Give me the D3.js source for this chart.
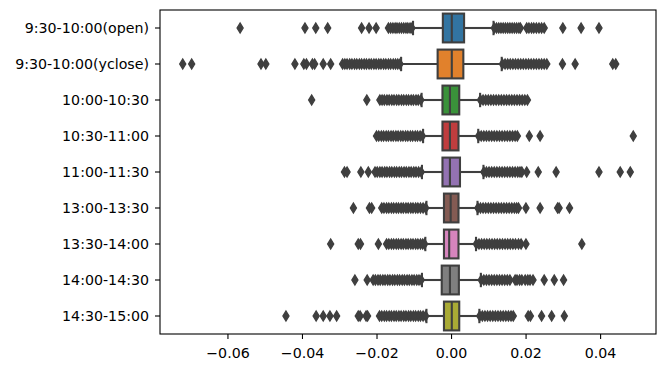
<!DOCTYPE html>
<html>
<head>
<meta charset="utf-8">
<script src="https://cdn.jsdelivr.net/npm/d3@7"></script>
<style>
  body { margin: 0; background: #fff; }
  text { font-family: "DejaVu Sans", sans-serif; }
</style>
</head>
<body>
<svg id="chart" width="663" height="369"></svg>
<script>
// time buckets on the y axis, top to bottom
const categories = ['9:30-10:00(open)', '9:30-10:00(yclose)', '10:00-10:30', '10:30-11:00',
  '11:00-11:30', '13:00-13:30', '13:30-14:00', '14:00-14:30', '14:30-15:00']
const boxColors = ['#3274a1', '#e1812c', '#3a923a', '#c03d3e', '#9372b2', '#845b53', '#d684bd', '#7f7f7f', '#a9aa35']

// box stats
const whiskerLow = [-0.0102, -0.0134, -0.0079, -0.0075, -0.0078, -0.0066, -0.0069, -0.0078, -0.0066]
const q1 = [-0.0022, -0.0036, -0.0023, -0.0023, -0.0023, -0.0019, -0.0019, -0.0025, -0.0019]
const median = [0.0002, 0.0002, -0.0003, -0.0003, -0.0003, -0.0001, -0.0005, -0.0003, 0.0002]
const q3 = [0.0035, 0.0033, 0.0022, 0.0020, 0.0024, 0.0020, 0.0020, 0.0021, 0.0022]
const whiskerHigh = [0.0114, 0.0136, 0.0078, 0.0073, 0.0087, 0.0071, 0.0067, 0.0080, 0.0076]

// outliers for each bucket
const fliers = [
  [-0.0566, -0.0392, -0.0363, -0.0331, -0.0240, -0.0220, -0.0201,
   -0.0168, -0.0162, -0.0156, -0.0150, -0.0145, -0.0139, -0.0133, -0.0127, -0.0121, -0.0116, -0.0110, -0.0105,
   0.0116, 0.0122, 0.0128, 0.0134, 0.0140, 0.0146, 0.0152, 0.0158, 0.0164, 0.0170, 0.0176, 0.0182, 0.0186,
   0.0203, 0.0209, 0.0216, 0.0222, 0.0229, 0.0236, 0.0243, 0.0250, 0.0300, 0.0349, 0.0397],
  [-0.0720, -0.0696, -0.0510, -0.0497, -0.0419, -0.0395, -0.0388, -0.0372, -0.0366, -0.0343, -0.0323,
   -0.0291, -0.0285, -0.0279, -0.0272, -0.0266, -0.0259, -0.0253, -0.0246, -0.0240, -0.0233, -0.0227, -0.0220,
   -0.0214, -0.0207, -0.0201, -0.0194, -0.0188, -0.0181, -0.0175, -0.0168, -0.0162, -0.0155, -0.0149, -0.0143, -0.0137,
   0.0138, 0.0145, 0.0152, 0.0159, 0.0166, 0.0173, 0.0180, 0.0187, 0.0194, 0.0201, 0.0208, 0.0215, 0.0222,
   0.0229, 0.0236, 0.0243, 0.0250, 0.0257, 0.0299, 0.0333, 0.0434, 0.0442],
  [-0.0374, -0.0226, -0.0191, -0.0185, -0.0179, -0.0172, -0.0166, -0.0159, -0.0153, -0.0146, -0.0140, -0.0133,
   -0.0127, -0.0120, -0.0114, -0.0107, -0.0101, -0.0094, -0.0088, -0.0081,
   0.0079, 0.0086, 0.0093, 0.0100, 0.0107, 0.0114, 0.0121, 0.0128, 0.0135, 0.0142, 0.0149, 0.0156, 0.0163,
   0.0170, 0.0177, 0.0184, 0.0191, 0.0198, 0.0205],
  [-0.0200, -0.0194, -0.0187, -0.0181, -0.0174, -0.0168, -0.0161, -0.0155, -0.0148, -0.0142, -0.0135, -0.0129,
   -0.0122, -0.0116, -0.0109, -0.0103, -0.0096, -0.0090, -0.0083, -0.0077,
   0.0074, 0.0081, 0.0088, 0.0095, 0.0102, 0.0109, 0.0116, 0.0123, 0.0130, 0.0137, 0.0144, 0.0151, 0.0158,
   0.0165, 0.0172, 0.0178, 0.0210, 0.0239, 0.0489],
  [-0.0286, -0.0279, -0.0242, -0.0222, -0.0204, -0.0198, -0.0191, -0.0185, -0.0178, -0.0172, -0.0165, -0.0159,
   -0.0152, -0.0146, -0.0139, -0.0133, -0.0126, -0.0120, -0.0113, -0.0107, -0.0100, -0.0094, -0.0087, -0.0080,
   0.0088, 0.0095, 0.0102, 0.0109, 0.0116, 0.0123, 0.0130, 0.0137, 0.0144, 0.0151, 0.0158, 0.0165, 0.0172,
   0.0179, 0.0185, 0.0190, 0.0203, 0.0234, 0.0282, 0.0397, 0.0454, 0.0481],
  [-0.0262, -0.0219, -0.0213, -0.0186, -0.0180, -0.0173, -0.0167, -0.0160, -0.0154, -0.0147, -0.0141, -0.0134,
   -0.0128, -0.0121, -0.0115, -0.0108, -0.0102, -0.0095, -0.0089, -0.0082, -0.0075, -0.0068,
   0.0072, 0.0079, 0.0086, 0.0093, 0.0100, 0.0107, 0.0114, 0.0121, 0.0128, 0.0135, 0.0142, 0.0149, 0.0156,
   0.0163, 0.0170, 0.0176, 0.0181, 0.0201, 0.0239, 0.0286, 0.0290, 0.0318],
  [-0.0323, -0.0249, -0.0243, -0.0195, -0.0173, -0.0167, -0.0160, -0.0154, -0.0147, -0.0141, -0.0134, -0.0128,
   -0.0121, -0.0115, -0.0108, -0.0102, -0.0095, -0.0089, -0.0082, -0.0076, -0.0071,
   0.0068, 0.0075, 0.0082, 0.0089, 0.0096, 0.0103, 0.0110, 0.0117, 0.0124, 0.0131, 0.0138, 0.0145, 0.0152,
   0.0159, 0.0166, 0.0173, 0.0181, 0.0188, 0.0201, 0.0351],
  [-0.0258, -0.0225, -0.0209, -0.0203, -0.0196, -0.0190, -0.0183, -0.0177, -0.0170, -0.0164, -0.0157, -0.0151,
   -0.0144, -0.0138, -0.0131, -0.0125, -0.0118, -0.0112, -0.0105, -0.0099, -0.0092, -0.0086, -0.0080,
   0.0081, 0.0088, 0.0095, 0.0102, 0.0109, 0.0116, 0.0123, 0.0130, 0.0137, 0.0144, 0.0151, 0.0158,
   0.0172, 0.0177, 0.0184, 0.0190, 0.0199, 0.0206, 0.0212, 0.0220, 0.0250, 0.0277, 0.0302],
  [-0.0443, -0.0362, -0.0343, -0.0325, -0.0307, -0.0249, -0.0244, -0.0228, -0.0224,
   -0.0192, -0.0186, -0.0179, -0.0173, -0.0166, -0.0160, -0.0153, -0.0147, -0.0140, -0.0134, -0.0127, -0.0121,
   -0.0114, -0.0108, -0.0101, -0.0095, -0.0088, -0.0082, -0.0075, -0.0068,
   0.0077, 0.0084, 0.0091, 0.0098, 0.0105, 0.0112, 0.0119, 0.0126, 0.0133, 0.0140, 0.0147, 0.0154, 0.0161, 0.0167,
   0.0207, 0.0213, 0.0243, 0.0270, 0.0304]
]

const xTicks = [-0.06, -0.04, -0.02, 0.00, 0.02, 0.04]
const xDomain = [-0.0781, 0.0550]

const width = 663, height = 369
const margin = { top: 10, right: 7, bottom: 35, left: 160 }
const gray = '#3f3f3f'
const lw = 2.1

let svg = d3.select('#chart')

let x = d3.scaleLinear()
  .domain(xDomain)
  .range([margin.left, width - margin.right])

let y = d3.scaleBand()
  .domain(categories)
  .range([margin.top, height - margin.bottom])
  .padding(0)

let boxH = y.bandwidth() * 0.8
let capH = y.bandwidth() * 0.4

let rows = categories.map((c, i) => ({
  cat: c, color: boxColors[i], lo: whiskerLow[i], q1: q1[i], med: median[i], q3: q3[i], hi: whiskerHigh[i], fliers: fliers[i]
}))

let g = svg.append('g')

let row = g.selectAll('g.row')
  .data(rows)
  .enter()
  .append('g')
  .attr('class', 'row')
  .attr('transform', d => `translate(0,${y(d.cat) + y.bandwidth() / 2})`)

// whiskers
row.append('line')
  .attr('x1', d => x(d.lo)).attr('x2', d => x(d.q1))
  .attr('stroke', gray).attr('stroke-width', lw)
row.append('line')
  .attr('x1', d => x(d.q3)).attr('x2', d => x(d.hi))
  .attr('stroke', gray).attr('stroke-width', lw)

// caps
row.append('line')
  .attr('x1', d => x(d.lo)).attr('x2', d => x(d.lo))
  .attr('y1', -capH / 2).attr('y2', capH / 2)
  .attr('stroke', gray).attr('stroke-width', lw)
row.append('line')
  .attr('x1', d => x(d.hi)).attr('x2', d => x(d.hi))
  .attr('y1', -capH / 2).attr('y2', capH / 2)
  .attr('stroke', gray).attr('stroke-width', lw)

// boxes
row.append('rect')
  .attr('x', d => x(d.q1))
  .attr('y', -boxH / 2)
  .attr('width', d => x(d.q3) - x(d.q1))
  .attr('height', boxH)
  .attr('fill', d => d.color)
  .attr('stroke', gray)
  .attr('stroke-width', lw)

// medians
row.append('line')
  .attr('x1', d => x(d.med)).attr('x2', d => x(d.med))
  .attr('y1', -boxH / 2).attr('y2', boxH / 2)
  .attr('stroke', gray).attr('stroke-width', lw)

// fliers, thin diamonds
let dh = 5, dw = 3
row.selectAll('path.flier')
  .data(d => d.fliers)
  .enter()
  .append('path')
  .attr('class', 'flier')
  .attr('d', `M0,${-dh}L${dw},0L0,${dh}L${-dw},0Z`)
  .attr('transform', v => `translate(${x(v)},0)`)
  .attr('fill', gray)
  .attr('stroke', gray)
  .attr('stroke-width', 1.4)

// axes
let fmt = v => d3.format('.2f')(v).replace('-', '\u2212')

let xAxis = svg.append('g')
  .attr('transform', `translate(0,${height - margin.bottom})`)
  .call(d3.axisBottom(x).tickValues(xTicks).tickFormat(fmt).tickSize(5).tickPadding(5).tickSizeOuter(0))
xAxis.select('.domain').remove()
xAxis.selectAll('text').attr('dy', '0.97em')

let yAxis = svg.append('g')
  .attr('transform', `translate(${margin.left},0)`)
  .call(d3.axisLeft(y).tickSize(5).tickPadding(6).tickSizeOuter(0))
yAxis.select('.domain').remove()

svg.selectAll('.tick text')
  .attr('font-size', '14.2px')
  .attr('font-family', 'DejaVu Sans')
  .attr('fill', '#000')
svg.selectAll('.tick line').attr('stroke', '#000').attr('stroke-width', 1.1)

// frame
svg.append('rect')
  .attr('x', margin.left)
  .attr('y', margin.top)
  .attr('width', width - margin.right - margin.left)
  .attr('height', height - margin.bottom - margin.top)
  .attr('fill', 'none')
  .attr('stroke', '#000')
  .attr('stroke-width', 1.1)
</script>
</body>
</html>
